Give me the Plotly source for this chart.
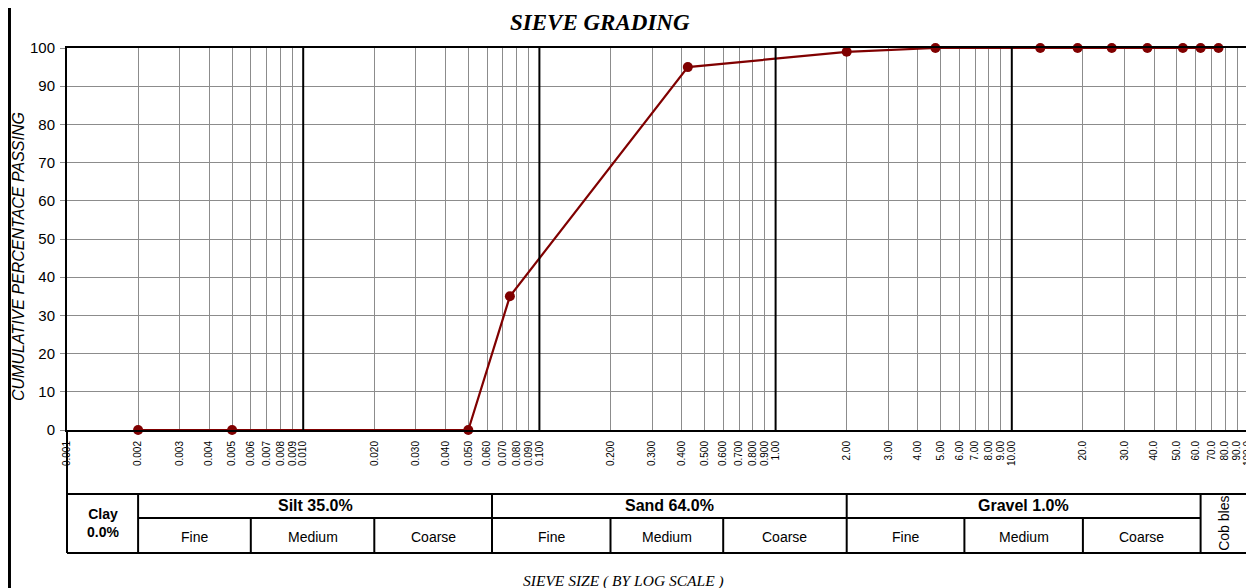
import math
import plotly.graph_objects as go

# ---------------- data ----------------
sieve_mm = [0.002, 0.005, 0.05, 0.075, 0.425, 2.0, 4.75, 13.2, 19.0, 26.5, 37.5, 53.0, 63.0, 75.0]
passing_pct = [0, 0, 0, 35, 95, 99, 100, 100, 100, 100, 100, 100, 100, 100]

tick_labels = [
    "0.001", "0.002", "0.003", "0.004", "0.005", "0.006", "0.007", "0.008", "0.009",
    "0.010", "0.020", "0.030", "0.040", "0.050", "0.060", "0.070", "0.080", "0.090",
    "0.100", "0.200", "0.300", "0.400", "0.500", "0.600", "0.700", "0.800", "0.900",
    "1.00", "2.00", "3.00", "4.00", "5.00", "6.00", "7.00", "8.00", "9.00",
    "10.00", "20.0", "30.0", "40.0", "50.0", "60.0", "70.0", "80.0", "90.0", "100.0",
]
tick_values = [float(t) for t in tick_labels]
decade_lines = [0.01, 0.1, 1.0, 10.0]

class_names = ["Clay<br>0.0%", "Silt 35.0%", "Sand 64.0%", "Gravel 1.0%"]
class_bounds = [0.001, 0.002, 0.063, 2.0, 63.0]
cobbles_label = "Cob bles"
cobbles_bounds = [63.0, 100.0]
sub_names = ["Fine", "Medium", "Coarse"]
silt_bounds = [0.002, 0.006, 0.02, 0.063]
sand_bounds = [0.063, 0.2, 0.6, 2.0]
gravel_bounds = [2.0, 6.3, 20.0, 63.0]

# ---------------- figure ----------------
SANS = "Liberation Sans, Arial, sans-serif"
SERIF = "Liberation Serif, Times New Roman, serif"
RED = "#800000"
GRID = "#8c8c8c"

fig = go.Figure()
fig.add_trace(go.Scatter(
    x=sieve_mm, y=passing_pct, mode="lines+markers",
    line=dict(color=RED, width=2.2), marker=dict(color=RED, size=10),
    cliponaxis=False, showlegend=False, hoverinfo="x+y",
))

# the page body has an 8px default margin, so the figure is sized to fit the window
fig.update_layout(
    width=1246, height=580, autosize=False,
    margin=dict(l=59, r=6, t=40, b=158),
    paper_bgcolor="white", plot_bgcolor="white",
    font=dict(family=SANS, color="black"),
)
fig.update_xaxes(
    type="log", range=[-3, 2], tickvals=tick_values, ticktext=tick_labels,
    tickangle=-90, tickfont=dict(family=SANS, size=10, color="black"),
    showgrid=True, gridcolor=GRID, gridwidth=1, ticks="",
    showline=True, linecolor="black", linewidth=2, mirror=True, zeroline=False,
    ticklabelstandoff=5, automargin=False,
)
fig.update_yaxes(
    range=[0, 100], dtick=10, tick0=0, ticks="outside", ticklen=5, tickcolor=GRID,
    tickfont=dict(family=SANS, size=15, color="black"),
    showgrid=True, gridcolor=GRID, gridwidth=1,
    showline=True, linecolor="black", linewidth=2, mirror=True, zeroline=False,
    automargin=False, ticklabelstandoff=2,
)

shapes = []
# heavy decade lines inside plot
for d in decade_lines:
    shapes.append(dict(type="line", xref="x", yref="paper", x0=d, x1=d, y0=0, y1=1,
                       line=dict(color="black", width=2), layer="above"))

# classification table
TAB_TOP = -0.1675
TAB_MID = -0.2304
TAB_BOT = -0.322
LW = 2
# outer borders (tick label area + table)
shapes.append(dict(type="line", xref="paper", yref="paper", x0=0, x1=0, y0=0, y1=TAB_BOT,
                   line=dict(color="black", width=LW)))
shapes.append(dict(type="line", xref="paper", yref="paper", x0=1, x1=1, y0=0, y1=TAB_BOT,
                   line=dict(color="black", width=LW)))
shapes.append(dict(type="line", xref="paper", yref="paper", x0=0, x1=1, y0=TAB_TOP, y1=TAB_TOP,
                   line=dict(color="black", width=LW)))
shapes.append(dict(type="line", xref="paper", yref="paper", x0=0, x1=1, y0=TAB_BOT, y1=TAB_BOT,
                   line=dict(color="black", width=LW)))
# horizontal divider between class row and sub row (silt..gravel)
shapes.append(dict(type="line", xref="x", yref="paper", x0=class_bounds[1], x1=class_bounds[-1],
                   y0=TAB_MID, y1=TAB_MID, line=dict(color="black", width=LW)))
# class dividers
for b in class_bounds[1:]:
    shapes.append(dict(type="line", xref="x", yref="paper", x0=b, x1=b, y0=TAB_TOP, y1=TAB_BOT,
                       line=dict(color="black", width=LW)))
# sub dividers
for bounds in (silt_bounds, sand_bounds, gravel_bounds):
    for b in bounds[1:-1]:
        shapes.append(dict(type="line", xref="x", yref="paper", x0=b, x1=b, y0=TAB_MID, y1=TAB_BOT,
                           line=dict(color="black", width=LW)))
# outer left frame line of the chart
shapes.append(dict(type="line", xref="paper", yref="paper", x0=-0.0487, x1=-0.0487, y0=-0.6, y1=1.3,
                   line=dict(color="black", width=3)))
fig.update_layout(shapes=shapes)


def lmid(a, b):
    return (math.log10(a) + math.log10(b)) / 2


def note(text, x, y, size, family=SANS, xref="paper", angle=0):
    return dict(text=text, xref=xref, yref="paper", x=x, y=y, xanchor="center", yanchor="middle",
                textangle=angle, showarrow=False, font=dict(family=family, size=size, color="black"))


ann = []
ann.append(note("<b><i>SIEVE GRADING</i></b>", 0.4513, 1.068, 23, SERIF))
ann.append(note("<i>CUMULATIVE PERCENTACE PASSING</i>", -0.0406, 0.453, 16, angle=-90))
ann.append(note("<i>SIEVE SIZE ( BY LOG SCALE )</i>", 0.471, -0.395, 15.5, SERIF))
# class headers
for i, name in enumerate(class_names):
    a, b = class_bounds[i], class_bounds[i + 1]
    if i == 0:
        ann.append(note("<b>" + name + "</b>", lmid(a, b), (TAB_TOP + TAB_BOT) / 2, 14, xref="x"))
    else:
        ann.append(note("<b>" + name + "</b>", lmid(a, b), (TAB_TOP + TAB_MID) / 2, 16, xref="x"))
ann.append(note(cobbles_label, lmid(*cobbles_bounds), (TAB_TOP + TAB_BOT) / 2, 14, xref="x", angle=-90))
for bounds in (silt_bounds, sand_bounds, gravel_bounds):
    for j, name in enumerate(sub_names):
        ann.append(note(name, lmid(bounds[j], bounds[j + 1]), (TAB_MID + TAB_BOT) / 2 - 0.005, 14,
                        xref="x"))
fig.update_layout(annotations=ann)

fig.write_html("out.html")
